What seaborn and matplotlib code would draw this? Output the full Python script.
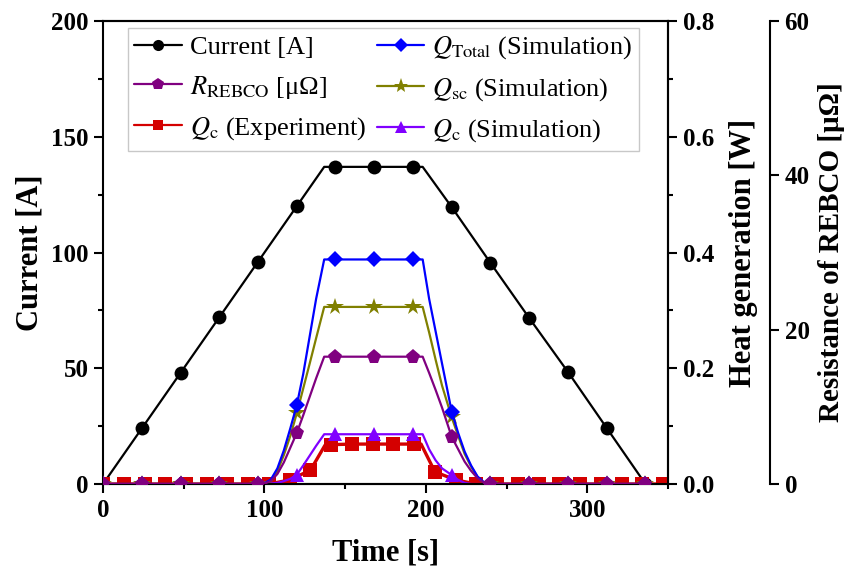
import numpy as np
import matplotlib
matplotlib.use("Agg")
import matplotlib.pyplot as plt
from matplotlib.lines import Line2D
from matplotlib.ticker import MultipleLocator
import seaborn as sns

# ---- transport current (A) ----
t_current = [0, 24, 48, 72, 96, 120, 137, 144, 168, 192, 198, 216, 240, 264, 288, 312, 336]
current_a = [0, 24, 48, 72, 96, 120, 137, 137, 137, 137, 137, 119.6, 95.5, 71.7, 48.4, 24.2, 0]
current_marks = [0, 1, 2, 3, 4, 5, 7, 8, 9, 11, 12, 13, 14, 15, 16]

# ---- simulation time base (s) ----
t_sim = [0, 24, 48, 72, 96, 100, 104, 108, 112, 116, 120, 124, 128, 132, 137,
         144, 168, 192, 198, 202, 206, 210, 216, 220, 224, 228, 232, 236, 240,
         264, 288, 312, 336]
sim_marks = [0, 1, 2, 3, 4, 10, 15, 16, 17, 22, 28, 29, 30, 31, 32]

q_total_w = [0, 0, 0, 0, 0, 0.001, 0.008, 0.027, 0.058, 0.096, 0.136, 0.19, 0.255, 0.32, 0.388,
             0.388, 0.388, 0.388, 0.388, 0.32, 0.264, 0.208, 0.125, 0.088, 0.056, 0.032, 0.013, 0.003, 0,
             0, 0, 0, 0]
q_sc_w = [0, 0, 0, 0, 0, 0, 0.005, 0.022, 0.05, 0.083, 0.122, 0.165, 0.208, 0.252, 0.306,
          0.306, 0.306, 0.306, 0.306, 0.262, 0.215, 0.17, 0.115, 0.083, 0.052, 0.03, 0.012, 0.002, 0,
          0, 0, 0, 0]
r_rebco_uohm = [0, 0, 0, 0, 0, 0.05, 0.4, 1.3, 2.8, 4.7, 6.6, 8.9, 11.3, 13.7, 16.5,
                16.5, 16.5, 16.5, 16.5, 14.4, 12.2, 9.9, 6.1, 4.5, 2.9, 1.7, 0.75, 0.15, 0,
                0, 0, 0, 0]
q_c_sim_w = [0, 0, 0, 0, 0, 0, 0.001, 0.002, 0.005, 0.009, 0.016, 0.032, 0.049, 0.066, 0.086,
             0.086, 0.086, 0.086, 0.086, 0.06, 0.041, 0.027, 0.0155, 0.007, 0.002, 0, 0, 0, 0,
             0, 0, 0, 0]

# ---- measured Q_c (W) ----
t_exp = [0, 12.9, 25.7, 38.6, 51.4, 64.3, 77.1, 90.0, 102.8, 115.7, 128.5, 137.5, 141.4, 154.2,
         167.1, 179.9, 192.8, 197.0, 205.6, 218.5, 231.3, 244.2, 257.0, 269.9, 282.7, 295.6,
         308.4, 321.3, 334.1, 347.0]
q_c_exp_w = [0, 0, 0, 0, 0, 0, 0, 0, 0, 0.007, 0.024, 0.067, 0.068, 0.069,
             0.069, 0.069, 0.069, 0.069, 0.021, 0.007, 0, 0, 0, 0, 0, 0,
             0, 0, 0, 0]
exp_marks = [i for i in range(len(t_exp)) if i not in (11, 17)]

# ---- axis ticks ----
time_ticks = [0, 100, 200, 300]
current_ticks = [0, 50, 100, 150, 200]
heat_ticks = [0.0, 0.2, 0.4, 0.6, 0.8]
res_ticks = [0, 20, 40, 60]

sns.set_theme(style="ticks")
plt.rcParams["font.family"] = ["Liberation Serif", "DejaVu Serif"]
plt.rcParams["mathtext.fontset"] = "stix"
for key in ("text.color", "axes.labelcolor", "xtick.color", "ytick.color", "axes.edgecolor"):
    plt.rcParams[key] = "black"

C_CUR = "#000000"
C_TOT = "#0000ff"
C_SC = "#808000"
C_RES = "#800080"
C_EXP = "#d40000"
C_QCS = "#8000ff"
LW = 1.6

fig = plt.figure(figsize=(8.48, 5.73), dpi=100)
ax = fig.add_axes([0.1215, 0.1553, 0.6663, 0.8080])
ax2 = ax.twinx()
ax3 = ax.twinx()
ax3.spines["right"].set_position(("outward", 73.4))

sns.lineplot(x=t_current, y=current_a, ax=ax, color=C_CUR, lw=LW, marker="o",
             markersize=10, markevery=current_marks, markeredgewidth=0, sort=False)

sns.lineplot(x=t_exp, y=q_c_exp_w, ax=ax2, color=C_EXP, lw=2.4, marker="s",
             markersize=9.5, markevery=exp_marks, markeredgewidth=0, sort=False)
sns.lineplot(x=t_sim, y=q_c_sim_w, ax=ax2, color=C_QCS, lw=LW, marker="^",
             markersize=10.5, markevery=sim_marks, markeredgewidth=0, sort=False)
sns.lineplot(x=t_sim, y=q_sc_w, ax=ax2, color=C_SC, lw=LW, marker="*",
             markersize=13, markevery=sim_marks, markeredgewidth=0, sort=False)
sns.lineplot(x=t_sim, y=q_total_w, ax=ax2, color=C_TOT, lw=LW, marker="D",
             markersize=8.5, markevery=sim_marks, markeredgewidth=0, sort=False)
sns.lineplot(x=t_sim, y=r_rebco_uohm, ax=ax3, color=C_RES, lw=LW, marker="p",
             markersize=11, markevery=sim_marks, markeredgewidth=0, sort=False)

for a in (ax, ax2, ax3):
    leg = a.get_legend()
    if leg is not None:
        leg.remove()

ax.set_xlim(0, 350)
ax.set_ylim(0, 200)
ax2.set_ylim(0, 0.8)
ax3.set_ylim(0, 60)

tick_font = dict(fontsize=18, fontweight="bold")
ax.set_xticks(time_ticks, [str(v) for v in time_ticks], **tick_font)
ax.set_yticks(current_ticks, [str(v) for v in current_ticks], **tick_font)
ax2.set_yticks(heat_ticks, [f"{v:.1f}" for v in heat_ticks], **tick_font)
ax3.set_yticks(res_ticks, [str(v) for v in res_ticks], **tick_font)
ax.xaxis.set_minor_locator(MultipleLocator(50))
ax.yaxis.set_minor_locator(MultipleLocator(25))
ax2.yaxis.set_minor_locator(MultipleLocator(0.1))

for a in (ax, ax2, ax3):
    a.tick_params(which="major", direction="out", length=6.5, width=1.5, pad=4, color="black")
    a.tick_params(which="minor", direction="out", length=3.5, width=1.5, color="black")
    for s in a.spines.values():
        s.set_linewidth(1.5)
        s.set_color("black")
ax.tick_params(axis="x", which="both", top=False)
ax3.spines["left"].set_visible(False)
ax3.spines["top"].set_visible(False)
ax3.spines["bottom"].set_visible(False)
ax2.spines["left"].set_visible(False)

label_font = dict(fontsize=22, fontweight="bold")
ax.set_xlabel("Time [s]", labelpad=12, **label_font)
ax.set_ylabel("Current [A]", labelpad=5, **label_font)
ax2.set_ylabel("Heat generation [W]", labelpad=11, **label_font)
ax3.set_ylabel("Resistance of REBCO [μΩ]", labelpad=6, fontsize=21, fontweight="bold")

handles = [
    Line2D([], [], color=C_CUR, lw=LW, marker="o", markersize=8, markeredgewidth=0),
    Line2D([], [], color=C_RES, lw=LW, marker="p", markersize=9, markeredgewidth=0),
    Line2D([], [], color=C_EXP, lw=LW, marker="s", markersize=7.5, markeredgewidth=0),
    Line2D([], [], color=C_TOT, lw=LW, marker="D", markersize=7, markeredgewidth=0),
    Line2D([], [], color=C_SC, lw=LW, marker="*", markersize=11, markeredgewidth=0),
    Line2D([], [], color=C_QCS, lw=LW, marker="^", markersize=8.5, markeredgewidth=0),
]
labels = [
    "Current [A]",
    r"$R_{\mathrm{REBCO}}$ [μΩ]",
    r"$Q_{\mathrm{c}}$ (Experiment)",
    r"$Q_{\mathrm{Total}}$ (Simulation)",
    r"$Q_{\mathrm{sc}}$ (Simulation)",
    r"$Q_{\mathrm{c}}$ (Simulation)",
]
leg = ax3.legend(handles, labels, ncol=2, loc="upper left", bbox_to_anchor=(0.044, 0.985),
                 fontsize=19, frameon=True, fancybox=False, framealpha=1, edgecolor="#c8c8c8",
                 handlelength=1.8, handletextpad=0.3, columnspacing=0.4, labelspacing=0.55,
                 borderpad=0.25, borderaxespad=0)
leg.get_frame().set_linewidth(1.0)

fig.savefig("out.png", dpi=100)
